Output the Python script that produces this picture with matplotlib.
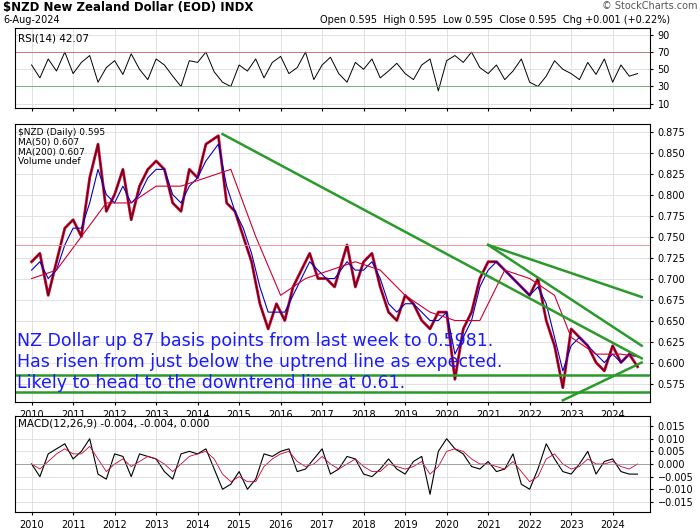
import matplotlib
matplotlib.use("Agg")
import matplotlib.pyplot as plt
import numpy as np

years = [2010,2011,2012,2013,2014,2015,2016,2017,2018,2019,2020,2021,2022,2023,2024]
px_t = [2010.0,2010.2,2010.4,2010.6,2010.8,2011.0,2011.2,2011.4,2011.6,2011.8,2012.0,2012.2,2012.4,2012.6,2012.8,
        2013.0,2013.2,2013.4,2013.6,2013.8,2014.0,2014.2,2014.5,2014.7,2014.9,2015.1,2015.3,2015.5,2015.7,2015.9,
        2016.1,2016.3,2016.5,2016.7,2016.9,2017.1,2017.3,2017.6,2017.8,2018.0,2018.2,2018.4,2018.6,2018.8,2019.0,
        2019.2,2019.4,2019.6,2019.8,2020.0,2020.2,2020.4,2020.6,2020.8,2021.0,2021.2,2021.4,2021.6,2021.8,2022.0,
        2022.2,2022.4,2022.6,2022.8,2023.0,2023.2,2023.4,2023.6,2023.8,2024.0,2024.2,2024.4,2024.6]
price = [0.72,0.73,0.68,0.72,0.76,0.77,0.75,0.82,0.86,0.78,0.80,0.83,0.77,0.81,0.83,
         0.84,0.83,0.79,0.78,0.83,0.82,0.86,0.87,0.79,0.78,0.75,0.72,0.67,0.64,0.67,
         0.65,0.69,0.71,0.73,0.70,0.70,0.69,0.74,0.69,0.72,0.73,0.69,0.66,0.65,0.68,
         0.67,0.65,0.64,0.66,0.66,0.58,0.64,0.66,0.70,0.72,0.72,0.71,0.70,0.69,0.68,
         0.70,0.65,0.62,0.57,0.64,0.63,0.62,0.60,0.59,0.62,0.60,0.61,0.595]
ma50 = [0.71,0.72,0.70,0.71,0.74,0.76,0.76,0.79,0.83,0.80,0.79,0.81,0.79,0.80,0.82,
        0.83,0.83,0.80,0.79,0.81,0.82,0.84,0.86,0.81,0.78,0.76,0.73,0.69,0.66,0.66,
        0.66,0.68,0.70,0.72,0.71,0.70,0.70,0.72,0.71,0.71,0.72,0.70,0.67,0.66,0.67,
        0.67,0.66,0.65,0.65,0.66,0.61,0.63,0.65,0.69,0.71,0.72,0.71,0.70,0.69,0.68,
        0.69,0.67,0.63,0.59,0.62,0.63,0.62,0.61,0.60,0.61,0.60,0.61,0.607]
ma200_t = [2010.0,2010.6,2011.2,2011.8,2012.4,2013.0,2013.6,2014.2,2014.8,2015.4,2016.0,2016.6,2017.2,2017.8,2018.4,
           2019.0,2019.6,2020.2,2020.8,2021.4,2022.0,2022.6,2023.0,2023.6,2024.2,2024.6]
ma200 = [0.70,0.71,0.75,0.79,0.79,0.81,0.81,0.82,0.83,0.75,0.68,0.70,0.71,0.72,0.71,
         0.68,0.66,0.65,0.65,0.71,0.70,0.68,0.63,0.61,0.61,0.607]
rsi_t = list(np.round(np.arange(2010.0, 2024.61, 0.2), 1))
rsi = [55,40,62,48,70,45,58,66,35,52,60,44,68,50,38,62,55,42,30,60,58,70,47,35,30,55,48,62,40,58,
       65,45,52,70,38,55,64,45,35,58,50,62,40,48,57,45,38,55,62,25,60,66,58,70,52,45,55,38,48,62,
       35,30,42,60,50,45,38,58,44,62,35,55,42,45]
macd_t = rsi_t
macd = [0.00,-0.005,0.004,0.006,0.008,0.002,0.005,0.010,-0.004,-0.006,0.004,0.003,-0.005,0.004,0.003,0.002,-0.003,-0.006,0.004,
        0.005,0.004,0.006,-0.002,-0.010,-0.008,-0.003,-0.010,-0.006,0.004,0.003,0.005,0.006,-0.003,-0.002,0.002,0.006,-0.004,-0.002,
        0.003,0.002,-0.004,-0.005,-0.002,0.002,-0.002,-0.004,0.001,0.003,-0.012,0.005,0.010,0.006,0.004,-0.001,-0.002,0.001,
        -0.003,-0.002,0.004,-0.008,-0.010,-0.002,0.008,0.002,-0.003,-0.004,0.000,0.005,-0.004,0.001,0.002,-0.003,-0.004,-0.004]
signal = [0.00,-0.002,0.001,0.004,0.006,0.004,0.004,0.007,0.002,-0.003,0.000,0.002,-0.001,0.001,0.003,0.002,0.000,-0.003,0.000,
          0.003,0.004,0.005,0.002,-0.004,-0.007,-0.005,-0.007,-0.007,-0.001,0.002,0.004,0.005,0.001,-0.001,0.000,0.003,0.000,-0.002,
          0.000,0.002,-0.001,-0.003,-0.003,0.000,-0.001,-0.002,-0.001,0.001,-0.004,-0.001,0.005,0.006,0.005,0.002,0.000,0.000,
          -0.001,-0.002,0.001,-0.003,-0.007,-0.005,0.002,0.004,0.000,-0.002,-0.001,0.002,0.000,0.000,0.001,-0.001,-0.002,0.000]

fig = plt.figure(figsize=(7, 5.3), dpi=100)
W, H = 700, 530
def ax_at(x0, y0, x1, y1):
    return fig.add_axes([x0/W, 1-y1/H, (x1-x0)/W, (y1-y0)/H])
L, R = 15, 650
a1 = ax_at(L, 28, R, 108)
a2 = ax_at(L, 124, R, 402)
a3 = ax_at(L, 416, R, 512)
for a in (a1, a2, a3):
    a.set_xlim(2009.6, 2024.9)
    a.yaxis.tick_right()
    a.tick_params(labelsize=7, length=2)
    a.grid(True, color="#dddddd", lw=0.6)
    a.set_xticks(years)
a1.set_xticklabels([])
a2.set_xticklabels([str(y) for y in years])
a3.set_xticklabels([str(y) for y in years])

a1.plot(rsi_t, rsi, color="black", lw=0.7)
a1.axhline(70, color="#cc6666", lw=0.6); a1.axhline(30, color="#66aa66", lw=0.6)
a1.set_ylim(5, 98); a1.set_yticks([10,30,50,70,90])
a1.text(0.005, 0.93, "RSI(14) 42.07", transform=a1.transAxes, fontsize=7.5, va="top")

a2.plot(px_t, price, color="#cc0033", lw=2.0)
a2.plot(px_t, price, color="black", lw=0.4)
a2.plot(px_t, ma50, color="#0000cc", lw=0.8)
a2.plot(ma200_t, ma200, color="#cc0033", lw=0.8)
a2.axhline(0.74, color="#ee8888", lw=0.6)
g = "#2a9a2a"
a2.plot([2014.6, 2024.7], [0.872, 0.605], color=g, lw=1.8)
a2.plot([2021.0, 2024.7], [0.740, 0.678], color=g, lw=1.8)
a2.plot([2021.0, 2024.7], [0.740, 0.620], color=g, lw=1.8)
a2.plot([2022.8, 2024.7], [0.555, 0.600], color=g, lw=1.8)
a2.axhline(0.585, color=g, lw=1.8); a2.axhline(0.565, color=g, lw=1.8)
a2.set_ylim(0.553, 0.884)
a2.set_yticks(np.round(np.arange(0.575, 0.876, 0.025), 3))
a2.set_yticklabels([f"{v:.3f}" for v in np.arange(0.575, 0.876, 0.025)])
a2.text(0.005, 0.985, "$NZD (Daily) 0.595\nMA(50) 0.607\nMA(200) 0.607\nVolume undef",
        transform=a2.transAxes, fontsize=6.5, va="top", linespacing=1.1)
for i, s in enumerate(["NZ Dollar up 87 basis points from last week to 0.5981.",
                       "Has risen from just below the uptrend line as expected.",
                       "Likely to head to the downtrend line at 0.61."]):
    a2.text(0.003, 0.22 - i*0.075, s, transform=a2.transAxes, fontsize=12.5, color="#1a1aff", va="center")

a3.plot(macd_t, macd, color="black", lw=0.8)
a3.plot(macd_t, signal, color="#cc0033", lw=0.6)
a3.axhline(0, color="#888888", lw=0.5)
a3.set_ylim(-0.019, 0.019)
a3.set_yticks([-0.015,-0.010,-0.005,0.0,0.005,0.010,0.015])
a3.text(0.005, 0.97, "MACD(12,26,9) -0.004, -0.004, 0.000", transform=a3.transAxes, fontsize=7.5, va="top")

fig.text(3/W, 1-8/H, "$NZD New Zealand Dollar (EOD) INDX", fontsize=8.5, va="center", weight="bold")
fig.text(3/W, 1-20/H, "6-Aug-2024", fontsize=7, va="center")
fig.text(320/W, 1-20/H, "Open 0.595  High 0.595  Low 0.595  Close 0.595  Chg +0.001 (+0.22%)", fontsize=7, va="center")
fig.text(697/W, 1-6/H, "© StockCharts.com", fontsize=7, va="center", ha="right", color="#555555")
fig.savefig("out.png", dpi=100)
